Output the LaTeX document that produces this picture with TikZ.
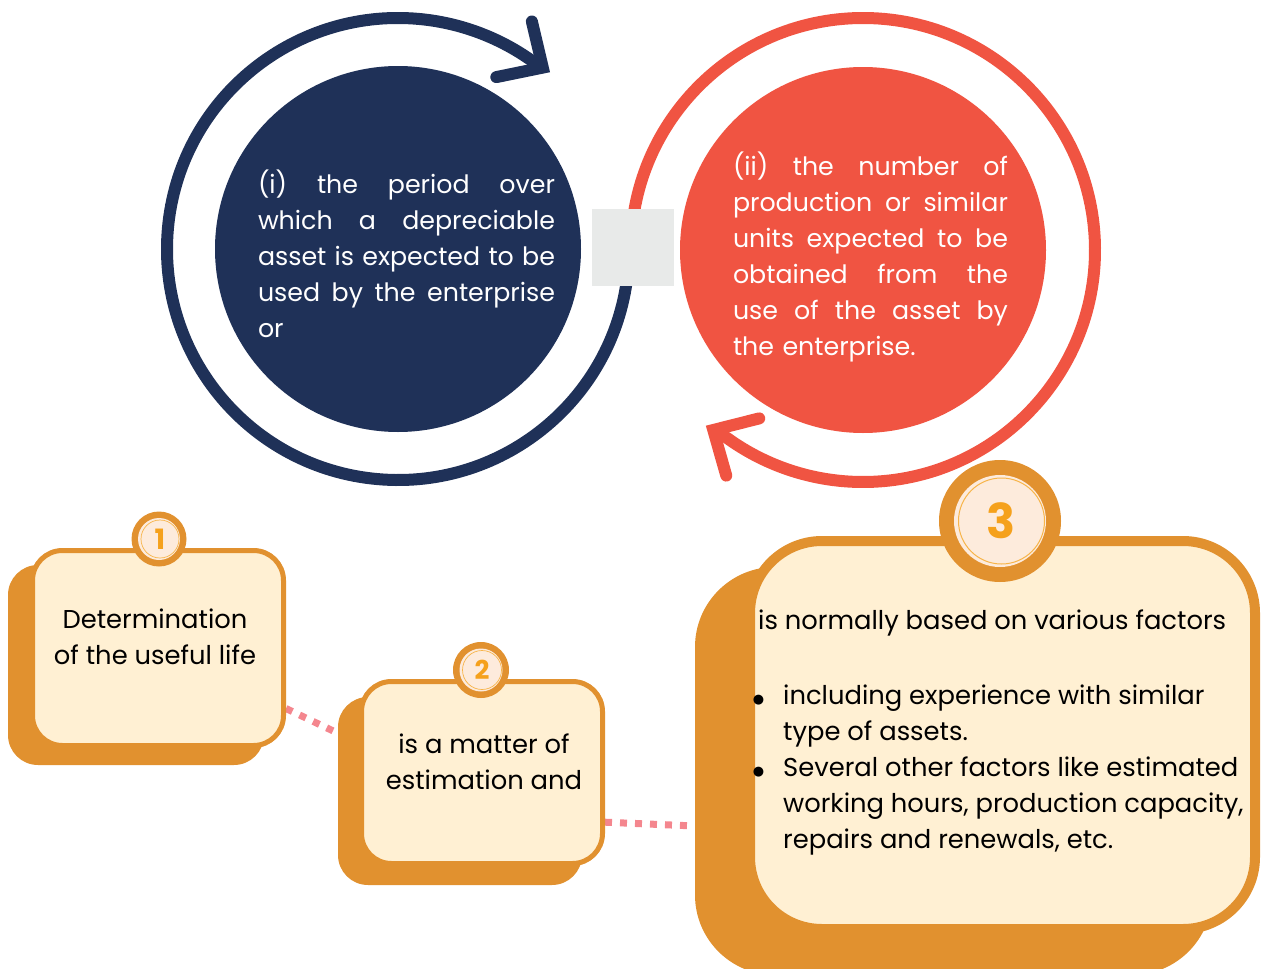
\documentclass[tikz,border=0pt]{standalone}
\usepackage{fontspec}
\setmainfont{Poppins}
\newfontfamily\dotfont{DejaVu Sans}
\definecolor{navy}{HTML}{1F3158}
\definecolor{coral}{HTML}{F05442}
\definecolor{amber}{HTML}{E1912F}
\definecolor{cream}{HTML}{FFF0D3}
\definecolor{peach}{HTML}{FDEBDC}
\definecolor{gold}{HTML}{F5A11C}
\definecolor{rose}{HTML}{F4868E}
\definecolor{mist}{HTML}{E8EAE9}
\usetikzlibrary{arrows.meta, positioning, calc, backgrounds}
\newcommand\fullline[2]{\leavevmode\hbox to #1{\spaceskip=\fontdimen2\font plus 1fil\relax #2}}
\newcommand\listdot{\llap{\raisebox{1.5pt}{\dotfont\fontsize{13}{13}\selectfont ●}\hspace{19pt}}}
\tikzset{
  disc/.style={circle, fill=#1, minimum size=366pt, inner sep=0pt},
  ring/.style={
    draw=#1, line width=12pt,
    -{Straight Barb[length=34pt, width=66pt, line cap=round, line join=miter]}
  },
  disctext/.style={
    text=white, align=left, inner sep=0pt,
    font=\fontsize{25.3}{36}\selectfont
  },
  shadebox/.style={fill=amber, rounded corners=#1, inner sep=0pt},
  shadebox/.default=30pt,
  cardbox/.style={
    draw=amber, fill=cream, line width=5pt, rounded corners=#1, inner sep=0pt
  },
  cardbox/.default=30pt,
  cardtext/.style={
    text=black, align=center, inner sep=0pt,
    font=\fontsize{25.8}{36}\selectfont
  },
  badge/.style={circle, fill=amber, inner sep=0pt, minimum size=#1},
  badgein/.style={circle, fill=peach, inner sep=0pt, minimum size=#1},
  badgenum/.style={
    circle, draw=gold!80, line width=0.7pt, inner sep=0pt,
    minimum size=#1, text=gold
  },
  dots/.style={draw=rose, line width=7pt, dash pattern=on 7pt off 8pt},
}
\begin{document}
\begin{tikzpicture}[x=1pt, y=-1pt]
  \useasboundingbox (0,0) rectangle (1262,969);

  % the two cycles
  \node[disc=navy] (navydisc) at (398,249) {};
  \node[disc=coral] (coraldisc) at (863,250) {};
  \draw[ring=navy] ($(navydisc.center)+(5:231)$)
    arc[start angle=5, end angle=304.8, radius=231] -- ++(20.2,12.9);
  \draw[ring=coral] ($(coraldisc.center)+(178:232)$)
    arc[start angle=178, end angle=486, radius=232] -- ++(-20.8,-12);
  \node[fill=mist, minimum width=82pt, minimum height=77pt, inner sep=0pt]
    (joint) at (633,247.5) {};

  \node[disctext, text width=297pt] (navytext) at (406.5,254) {%
    \fullline{297pt}{(i) the period over}\\
    \fullline{297pt}{which a depreciable}\\
    \fullline{297pt}{asset is expected to be}\\
    \fullline{297pt}{used by the enterprise}\\
    or};
  \node[disctext, text width=275pt] (coraltext) at (870.5,257) {%
    \fullline{275pt}{(ii) the number of}\\
    \fullline{275pt}{production or similar}\\
    \fullline{275pt}{units expected to be}\\
    \fullline{275pt}{obtained from the}\\
    \fullline{275pt}{use of the asset by}\\
    the enterprise.};

  % shadows behind the cards
  \node[shadebox, minimum width=256pt, minimum height=200pt]
    (shade1) at (136,665) {};
  \node[shadebox, minimum width=244pt, minimum height=188pt]
    (shade2) at (460,791) {};
  \node[shadebox=80pt, minimum width=517pt, minimum height=408pt]
    (shade3) at (953.5,771) {};

  % cards
  \node[cardbox, minimum width=251pt, minimum height=195pt]
    (card1) at (158,648) {};
  \node[cardbox, minimum width=241pt, minimum height=182pt]
    (card2) at (482,772.5) {};
  \node[cardbox=72pt, line width=10pt, minimum width=505pt, minimum height=388pt]
    (card3) at (1002.5,735) {};

  % dotted links
  \begin{scope}[on background layer]
    \draw[dots] (card1) -- (shade2);
    \draw[dots] (card2.-22) -- (shade3.192);
  \end{scope}

  \node[cardtext] (text1) at (155,637) {Determination\\of the useful life};
  \node[cardtext] (text2) at (484,762) {is a matter of\\estimation and};
  \node[cardtext, anchor=base west] (text3) at (758,629)
    {is normally based on various factors};
  \node[cardtext, align=left, anchor=north west] (list3) at (783,685) {%
    \listdot including experience with similar\\
    type of assets.\\
    \listdot Several other factors like estimated\\
    working hours, production capacity,\\
    repairs and renewals, etc.};

  % number badges
  \node[badge=55pt] (badge1) at (159,539) {};
  \node[badgein=42pt] at (badge1) {};
  \node[badgenum=38pt, font=\fontsize{28}{28}\selectfont\bfseries]
    (num1) at ([xshift=1pt]badge1.center) {1};
  \node[badge=56pt] (badge2) at (481,670) {};
  \node[badgein=43pt] at (badge2) {};
  \node[badgenum=39pt, font=\fontsize{26}{26}\selectfont\bfseries]
    (num2) at ([xshift=1pt]badge2.center) {2};
  \node[badge=122pt] (badge3) at (1000,521) {};
  \node[badgein=92pt] at (badge3) {};
  \node[badgenum=86pt, line width=1pt, font=\fontsize{48}{48}\selectfont\bfseries]
    (num3) at ([xshift=1.5pt]badge3.center) {3};
\end{tikzpicture}
\end{document}
